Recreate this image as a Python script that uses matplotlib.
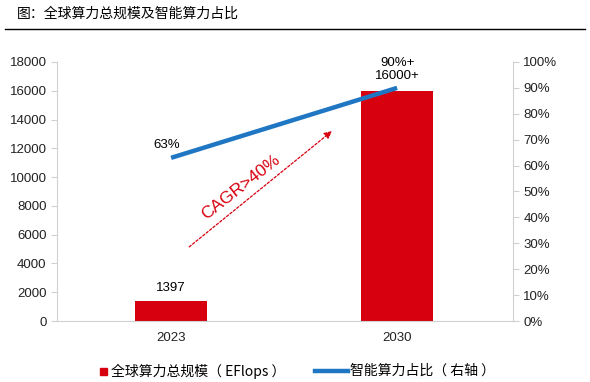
import numpy as np
import matplotlib.pyplot as plt
from matplotlib.lines import Line2D
from matplotlib.patches import Rectangle

plt.rcParams['font.family'] = ['Liberation Sans', 'Noto Sans CJK SC', 'DejaVu Sans']
cjk = ['Noto Sans CJK SC', 'DejaVu Sans']

years = ['2023', '2030']
total_compute = [1397, 16000]
ai_share = [63, 90]
bar_labels = ['1397', '16000+']
share_labels = ['63%', '90%+']
legend_labels = ['全球算力总规模（ EFlops ）', '智能算力占比（ 右轴 ）']

fig = plt.figure(figsize=(5.9, 3.82), dpi=100)
ax = fig.add_axes([57 / 590, 1 - 321 / 382, 456 / 590, 259 / 382])

x = np.arange(len(years))
red = '#d7000f'
blue = '#1f77c4'
grey = '#d0d0d0'

ax.bar(x, total_compute, width=0.32, color=red, zorder=2)
ax.set_xlim(-0.505, 1.513)
ax.set_ylim(0, 18000)
ax.set_yticks(np.arange(0, 18001, 2000))
ax.set_xticks(x, years)

ax2 = ax.twinx()
ax2.plot(x, ai_share, color=blue, lw=3.2, solid_capstyle='butt', zorder=3)
ax2.set_ylim(0, 100)
ax2.set_yticks(np.arange(0, 101, 10))
ax2.set_yticklabels([f'{v}%' for v in range(0, 101, 10)])

for a in (ax, ax2):
    for s in a.spines.values():
        s.set_visible(False)
    a.tick_params(labelsize=9.5, colors='#222222', length=4, width=0.8)
    a.tick_params(axis='y', color=grey)
ax.spines['left'].set_visible(True)
ax.spines['left'].set_color(grey)
ax.spines['bottom'].set_visible(True)
ax.spines['bottom'].set_color(grey)
ax2.spines['right'].set_visible(True)
ax2.spines['right'].set_color(grey)
ax.tick_params(axis='x', length=0, pad=8)

ax.text(x[0], total_compute[0] + 500, bar_labels[0], ha='center', va='bottom', fontsize=9.5)
ax.text(x[1], total_compute[1] + 600, bar_labels[1], ha='center', va='bottom', fontsize=9.5)
ax2.text(x[0] - 0.02, ai_share[0] + 5, share_labels[0], ha='center', va='center', fontsize=9.5)
ax2.text(x[1], ai_share[1] + 9.5, share_labels[1], ha='center', va='center', fontsize=9.5)

# growth arrow
ax.annotate('', xy=(0.712, 13200), xytext=(0.08, 5150),
            arrowprops=dict(arrowstyle='-|>', color=red, lw=0.9, ls=(0, (2, 1.5)),
                            mutation_scale=11, shrinkA=0, shrinkB=0))
ax.text(0.31, 9300, 'CAGR>40%', color=red, fontsize=12.5, rotation=38,
        ha='center', va='center')

# title and rule
fig.text(17 / 590, 1 - 14 / 382, '图：全球算力总规模及智能算力占比', fontsize=10,
         ha='left', va='center', family=cjk)
fig.add_artist(Line2D([5 / 590, 585 / 590], [1 - 29 / 382] * 2, color='black', lw=1))

# legend
ly = 1 - 371 / 382
fig.add_artist(Rectangle((100 / 590, ly - 3.5 / 382), 7 / 590, 7 / 382, color=red))
fig.text(111 / 590, ly, legend_labels[0], fontsize=10, ha='left', va='center', family=cjk)
fig.add_artist(Line2D([315 / 590, 348 / 590], [ly, ly], color=blue, lw=3.2))
fig.text(350 / 590, ly, legend_labels[1], fontsize=10, ha='left', va='center', family=cjk)

fig.savefig('out.png', dpi=100)
